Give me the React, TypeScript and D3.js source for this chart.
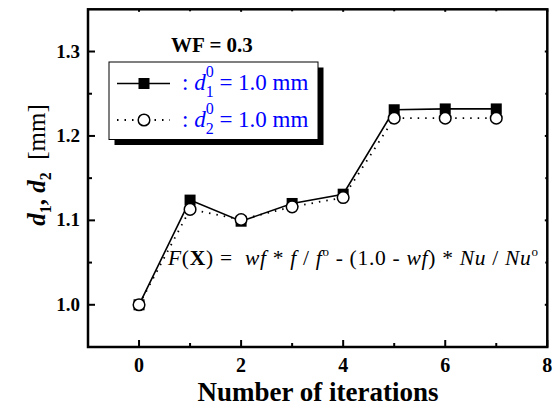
import React from "react";
import * as d3 from "d3";

const iterations = [0, 1, 2, 3, 4, 5, 6, 7];
const d1Values = [1.0, 1.124, 1.099, 1.12, 1.131, 1.231, 1.232, 1.232];
const d2Values = [1.0, 1.113, 1.101, 1.116, 1.127, 1.221, 1.221, 1.221];
const xTicks = [0, 2, 4, 6, 8];
const xMinor = [1, 3, 5, 7];
const yTicks = [1.0, 1.1, 1.2, 1.3];
const yMinor = [1.05, 1.15, 1.25];

const W = 560, H = 412;
const L = 88, R = 547.3, T = 9.3, B = 347;
const FONT = "Liberation Serif, Times New Roman, Times, DejaVu Serif, serif";

export default function App() {
  const x = d3.scaleLinear().domain([-1, 8]).range([L, R]);
  const y = d3.scaleLinear().domain([0.95, 1.35]).range([B, T]);
  const line = d3.line<number>().x((_, i) => x(iterations[i])).y((v) => y(v));

  return (
    <svg width={W} height={H} style={{ position: "absolute", left: 0, top: 0, background: "#fff", fontFamily: FONT }}>
      <rect x={L} y={T} width={R - L} height={B - T} fill="none" stroke="#000" strokeWidth={2.5} />
      {xTicks.map((t) => (
        <g key={"xt" + t}>
          <line x1={x(t)} x2={x(t)} y1={B} y2={B - 7} stroke="#000" strokeWidth={2} />
          <line x1={x(t)} x2={x(t)} y1={T} y2={T + 2.5} stroke="#000" strokeWidth={2} />
          <text x={x(t)} y={372} textAnchor="middle" fontWeight="bold" fontSize={20}>{t}</text>
        </g>
      ))}
      {xMinor.map((t) => (
        <g key={"xm" + t}>
          <line x1={x(t)} x2={x(t)} y1={B} y2={B - 4} stroke="#000" strokeWidth={2} />
          <line x1={x(t)} x2={x(t)} y1={T} y2={T + 2} stroke="#000" strokeWidth={2} />
        </g>
      ))}
      {yTicks.map((t) => (
        <g key={"yt" + t}>
          <line x1={L} x2={L + 7} y1={y(t)} y2={y(t)} stroke="#000" strokeWidth={2} />
          <line x1={R} x2={R - 2.5} y1={y(t)} y2={y(t)} stroke="#000" strokeWidth={2} />
          <text x={80} y={y(t) + 6} textAnchor="end" fontWeight="bold" fontSize={19}>{t.toFixed(1)}</text>
        </g>
      ))}
      {yMinor.map((t) => (
        <g key={"ym" + t}>
          <line x1={L} x2={L + 4} y1={y(t)} y2={y(t)} stroke="#000" strokeWidth={2} />
          <line x1={R} x2={R - 2} y1={y(t)} y2={y(t)} stroke="#000" strokeWidth={2} />
        </g>
      ))}

      <path d={line(d1Values) || ""} fill="none" stroke="#000" strokeWidth={1.6} />
      <path d={line(d2Values) || ""} fill="none" stroke="#000" strokeWidth={1.8} strokeDasharray="1.5,6" />
      {d1Values.map((v, i) => (
        <rect key={"s" + i} x={x(iterations[i]) - 5.5} y={y(v) - 5.5} width={11} height={11} fill="#000" />
      ))}
      {d2Values.map((v, i) => (
        <circle key={"c" + i} cx={x(iterations[i])} cy={y(v)} r={5.8} fill="#fff" stroke="#000" strokeWidth={1.5} />
      ))}

      <text x={212} y={52} textAnchor="middle" fontWeight="bold" fontSize={21}>WF = 0.3</text>

      <rect x={114.5} y={67.5} width={209} height={77.5} fill="#000" />
      <rect x={109} y={62} width={209} height={77.5} fill="#fff" stroke="#000" strokeWidth={1} />
      <line x1={117} x2={170} y1={83.5} y2={83.5} stroke="#000" strokeWidth={1.6} />
      <rect x={138.5} y={78} width={11} height={11} fill="#000" />
      <line x1={117} x2={170} y1={120} y2={120} stroke="#000" strokeWidth={1.8} strokeDasharray="1.5,6" />
      <circle cx={144} cy={120} r={5.8} fill="#fff" stroke="#000" strokeWidth={1.5} />
      {[["1", 90], ["2", 127]].map(([sub, yy]) => (
        <text key={sub as string} x={182} y={yy as number} fontSize={23} fill="#0000ff" xmlSpace="preserve">
          <tspan>: </tspan><tspan fontStyle="italic">d</tspan>
          <tspan fontSize={16} dy={7}>{sub}</tspan>
          <tspan fontSize={16} dx={-8} dy={-20}>0</tspan>
          <tspan dy={13}> = 1.0 mm</tspan>
        </text>
      ))}

      <text x={168} y={265} fontSize={21.5} xmlSpace="preserve" textLength={370} lengthAdjust="spacing">
        <tspan fontStyle="italic">F</tspan>
        <tspan>(</tspan><tspan fontWeight="bold">X</tspan><tspan>{") =  "}</tspan>
        <tspan fontStyle="italic">wf</tspan><tspan>{" * "}</tspan>
        <tspan fontStyle="italic">f</tspan><tspan>{" / "}</tspan>
        <tspan fontStyle="italic">f</tspan><tspan fontSize={13} dy={-9}>o</tspan>
        <tspan dy={9}>{" - (1.0 - "}</tspan><tspan fontStyle="italic">wf</tspan><tspan>{") * "}</tspan>
        <tspan fontStyle="italic">Nu</tspan><tspan>{" / "}</tspan>
        <tspan fontStyle="italic">Nu</tspan><tspan fontSize={13} dy={-9}>o</tspan>
      </text>

      <text x={318} y={401} textAnchor="middle" fontWeight="bold" fontSize={27}>Number of iterations</text>
      <text transform="translate(45,165) rotate(-90)" textAnchor="middle" fontSize={25} xmlSpace="preserve">
        <tspan fontWeight="bold" fontStyle="italic">d</tspan>
        <tspan fontWeight="bold" fontSize={16} dy={6}>1</tspan>
        <tspan fontWeight="bold" dy={-6}>{", "}</tspan>
        <tspan fontWeight="bold" fontStyle="italic">d</tspan>
        <tspan fontWeight="bold" fontSize={16} dy={6}>2</tspan>
        <tspan dy={-6}>{"  [mm]"}</tspan>
      </text>
    </svg>
  );
}
